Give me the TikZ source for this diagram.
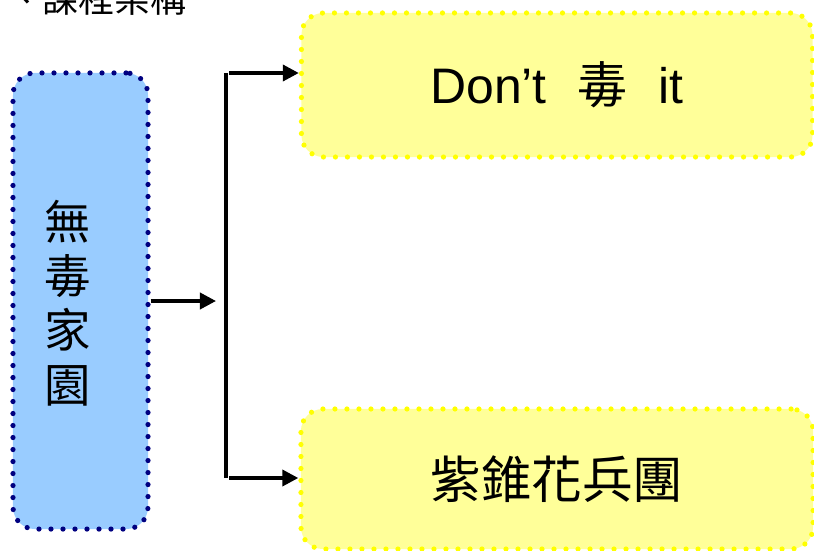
\documentclass[tikz,border=0pt]{standalone}
\usepackage{fontspec}
\setmainfont{Liberation Sans}
\newfontfamily\cjk{Noto Sans CJK TC}
\usetikzlibrary{arrows.meta}
\definecolor{boxblue}{HTML}{99CCFF}
\definecolor{dotblue}{HTML}{000080}
\definecolor{boxyellow}{HTML}{FFFF99}
\definecolor{dotyellow}{HTML}{FFFF00}

\begin{document}
\begin{tikzpicture}[x={(0.025cm,0cm)},y={(0cm,-0.025cm)},
  dotbox/.style={rectangle, rounded corners=0.55cm, line width=0.13cm, line cap=round, dash pattern=on 0pt off 0.3cm},
  wire/.style={line width=0.09cm},
  arr/.style={wire, -{Triangle[length=0.4cm,width=0.4cm]}}]

\useasboundingbox (0,0) rectangle (814,551);

\node[anchor=base east, inner sep=0pt, font=\cjk\fontsize{25.6}{30}\selectfont] (title) at (187,13) {、課程架構};

\node[dotbox, fill=boxblue, draw=dotblue, minimum width=3.375cm, minimum height=11.4cm] (home) at (80.5,301) {};
\node[align=center, inner sep=0pt, font=\cjk\fontsize{33}{38.5}\selectfont] (hometext) at (68,303) {無\\毒\\家\\園};

\node[dotbox, fill=boxyellow, draw=dotyellow, minimum width=12.775cm, minimum height=3.6cm, font=\fontsize{35.5}{40}\selectfont] (dont) at (557,85) {Don’t\hspace{0.62em}{\cjk 毒}\hspace{0.62em}it};
\node[dotbox, fill=boxyellow, draw=dotyellow, minimum width=12.8cm, minimum height=3.5cm, font=\cjk\fontsize{36}{40}\selectfont] (corps) at (557,479) {紫錐花兵團};

\coordinate (fork) at (216,301);
\coordinate (bustop) at (226,73);
\coordinate (busbot) at (226,478);

\draw[arr] (home.east |- fork) -- (fork);
\draw[wire] (bustop) -- (busbot);
\draw[arr] ([xshift=0.075cm]bustop) -- (dont.west |- bustop);
\draw[arr] ([xshift=0.075cm]busbot) -- (corps.west |- busbot);
\end{tikzpicture}
\end{document}
